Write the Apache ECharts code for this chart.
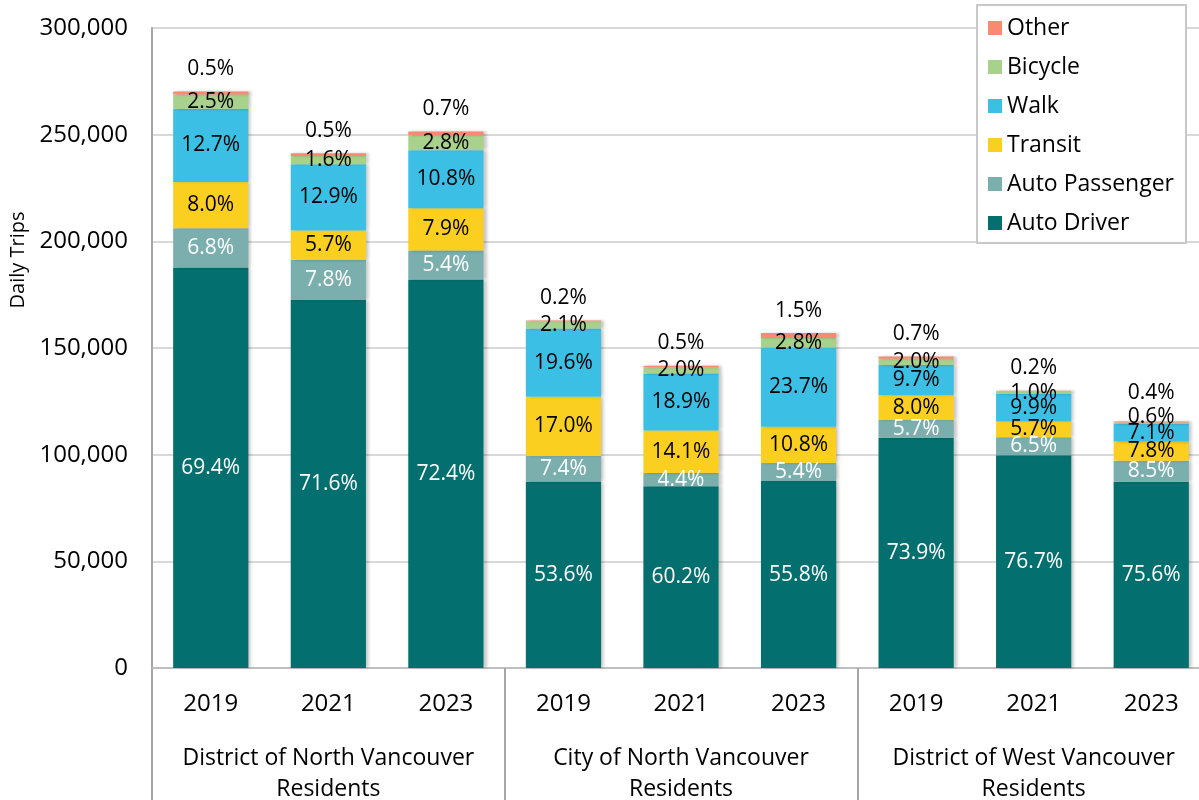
<!DOCTYPE html>
<html>
<head>
<meta charset="utf-8">
<script src="https://cdn.jsdelivr.net/npm/echarts@6/dist/echarts.min.js"></script>
<style>
  html, body { margin: 0; padding: 0; background: #fff; }
  #chart { width: 1199px; height: 800px; }
</style>
</head>
<body>
<div id="chart"></div>
<script>
// x axis: years within each residents group
const years = ['2019', '2021', '2023', '2019', '2021', '2023', '2019', '2021', '2023'];
const groups = ['District of North Vancouver\nResidents', 'City of North Vancouver\nResidents', 'District of West Vancouver\nResidents'];

const totals = [270500, 241000, 251500, 163000, 141500, 157000, 146000, 130000, 115500];

// mode share (%) per bar, as printed in the labels
const autoDriver = [69.4, 71.6, 72.4, 53.6, 60.2, 55.8, 73.9, 76.7, 75.6];
const autoPassenger = [6.8, 7.8, 5.4, 7.4, 4.4, 5.4, 5.7, 6.5, 8.5];
const transit = [8.0, 5.7, 7.9, 17.0, 14.1, 10.8, 8.0, 5.7, 7.8];
const walk = [12.7, 12.9, 10.8, 19.6, 18.9, 23.7, 9.7, 9.9, 7.1];
const bicycle = [2.5, 1.6, 2.8, 2.1, 2.0, 2.8, 2.0, 1.0, 0.6];
const other = [0.5, 0.5, 0.7, 0.2, 0.5, 1.5, 0.7, 0.2, 0.4];

const yTicks = [0, 50000, 100000, 150000, 200000, 250000, 300000];

const font = "'Open Sans', 'Noto Sans', sans-serif";

const modes = [
    { name: 'Auto Driver', pct: autoDriver, color: '#03706f', labelColor: '#fff' },
    { name: 'Auto Passenger', pct: autoPassenger, color: '#7aafae', labelColor: '#fff' },
    { name: 'Transit', pct: transit, color: '#fbcf1f', labelColor: '#000' },
    { name: 'Walk', pct: walk, color: '#3cbfe5', labelColor: '#000' },
    { name: 'Bicycle', pct: bicycle, color: '#a8d28c', labelColor: '#000' },
    { name: 'Other', pct: other, color: '#f88a72', labelColor: '#000' }
];

const buildSeries = mode => {
    const isOther = mode.name === 'Other';
    const data = mode.pct.map((p, i) => {
        const item = { value: totals[i] * p / 100 };
        // last bar is crowded, labels pushed up like in the original
        if (i === 8 && mode.name === 'Bicycle') {
            item.label = { offset: [0, -6] };
        }
        if (i === 8 && isOther) {
            item.label = { offset: [0, -6] };
        }
        return item;
    });
    return {
        name: mode.name,
        type: 'bar',
        stack: 'trips',
        barCategoryGap: '36%',
        data,
        itemStyle: {
            color: mode.color,
            shadowColor: 'rgba(0,0,0,0.22)',
            shadowBlur: 3,
            shadowOffsetX: 3
        },
        label: {
            show: true,
            position: isOther ? 'top' : 'inside',
            distance: 12,
            color: mode.labelColor,
            fontFamily: font,
            fontSize: 21,
            formatter: params => mode.pct[params.dataIndex].toFixed(1) + '%'
        },
        emphasis: { disabled: true }
    };
};

const chart = echarts.init(document.getElementById('chart'));

const option = {
    animation: false,
    grid: { left: 152, right: -11, top: 28, bottom: 132, outerBoundsMode: 'none' },
    legend: {
        data: ['Other', 'Bicycle', 'Walk', 'Transit', 'Auto Passenger', 'Auto Driver'],
        orient: 'vertical',
        left: 977,
        top: 5,
        padding: [11, 12, 8, 11],
        itemGap: 15,
        itemWidth: 14,
        itemHeight: 14,
        icon: 'rect',
        backgroundColor: '#fff',
        borderColor: '#c8c8c8',
        borderWidth: 2,
        textStyle: { fontFamily: font, fontSize: 23, color: '#000', lineHeight: 24 }
    },
    xAxis: [
        {
            type: 'category',
            data: years,
            axisLine: { show: true, lineStyle: { color: '#bfbfbf', width: 2 } },
            axisTick: { show: false },
            axisLabel: { color: '#000', fontFamily: font, fontSize: 24, margin: 24, interval: 0 }
        },
        {
            type: 'category',
            data: groups,
            position: 'bottom',
            axisLine: { show: false },
            axisTick: { show: true, interval: 0, length: 132, lineStyle: { color: '#a6a6a6', width: 2 } },
            axisLabel: { color: '#000', fontFamily: font, fontSize: 23, lineHeight: 31, margin: 75, interval: 0 }
        }
    ],
    yAxis: {
        type: 'value',
        min: yTicks[0],
        max: yTicks[yTicks.length - 1],
        interval: yTicks[1] - yTicks[0],
        axisLine: { show: true, lineStyle: { color: '#a6a6a6', width: 2 } },
        axisTick: { show: false },
        splitLine: { lineStyle: { color: '#d9d9d9', width: 2 } },
        axisLabel: {
            color: '#000',
            fontFamily: font,
            fontSize: 24,
            margin: 24,
            formatter: v => v.toLocaleString('en-US')
        }
    },
    graphic: [{
        type: 'text',
        x: 18,
        y: 260,
        rotation: Math.PI / 2,
        style: {
            text: 'Daily Trips',
            fill: '#000',
            fontFamily: font,
            fontSize: 20,
            textAlign: 'center',
            textVerticalAlign: 'middle'
        }
    }],
    series: modes.map(buildSeries)
};

chart.setOption(option);
</script>
</body>
</html>
